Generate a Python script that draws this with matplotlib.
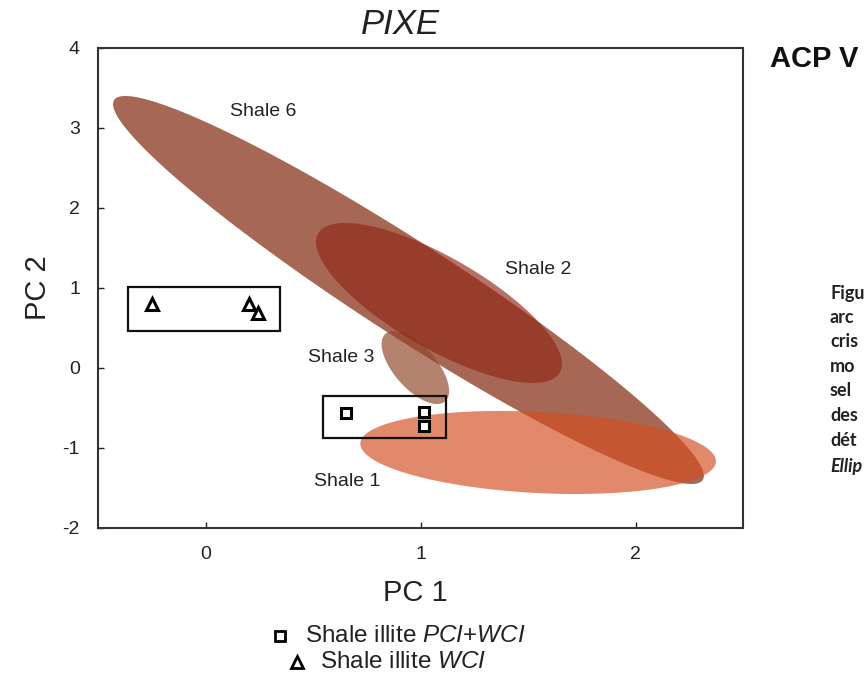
import numpy as np
import matplotlib
matplotlib.use("Agg")
import matplotlib.pyplot as plt
from matplotlib.patches import Polygon, Rectangle
from matplotlib.lines import Line2D

plt.rcParams['font.family'] = ['Liberation Sans', 'DejaVu Sans']
plt.rcParams['mathtext.fontset'] = 'custom'
plt.rcParams['mathtext.rm'] = 'Liberation Sans'
plt.rcParams['mathtext.it'] = 'Liberation Sans:italic'
plt.rcParams['axes.unicode_minus'] = False

# ---- data ----
# confidence ellipses: centre, half-width (PC1), half-height (PC2), correlation
ell_names = ["Shale 3", "Shale 6", "Shale 2", "Shale 1"]
ell_cx = [0.976, 0.944, 1.086, 1.547]
ell_cy = [0.006, 0.975, 0.8125, -1.056]
ell_hw = [0.157, 1.374, 0.572, 0.827]
ell_hh = [0.456, 2.425, 1.000, 0.519]
ell_rho = [-0.64, -0.958, -0.762, -0.21]
ell_colors = ["#a86c55", "#93462e", "#912615", "#d44e22"]
ell_alpha = [0.85, 0.82, 0.65, 0.67]

label_names = ["Shale 6", "Shale 2", "Shale 3", "Shale 1"]
label_x = [0.27, 1.546, 0.633, 0.66]
label_y = [3.21, 1.227, 0.134, -1.42]

tri_x = [-0.25, 0.20, 0.245]
tri_y = [0.80, 0.80, 0.69]
sq_x = [0.655, 1.015, 1.015]
sq_y = [-0.56, -0.55, -0.72]

tri_box = [-0.36, 0.46, 0.345, 1.01]    # x0, y0, x1, y1
sq_box = [0.547, -0.875, 1.117, -0.35]

xticks = [0, 1, 2]
yticks = [-2, -1, 0, 1, 2, 3, 4]

right_lines = ["Figu", "arc", "cris", "mo", "sel", "des", "dét"]

# ---- figure ----
fig = plt.figure(figsize=(8.64, 6.86), dpi=100)
ax = fig.add_axes([98/864, 1-528/686, (743-98)/864, (528-48)/686])
ax.set_xlim(-0.5, 2.5)
ax.set_ylim(-2, 4)

t = np.linspace(0, 2*np.pi, 400)
circle = np.vstack([np.cos(t), np.sin(t)])
for i in range(len(ell_names)):
    c = ell_rho[i]*ell_hw[i]*ell_hh[i]
    M = np.array([[ell_hw[i]**2, c], [c, ell_hh[i]**2]])
    L = np.linalg.cholesky(M)
    pts = (L @ circle).T + np.array([ell_cx[i], ell_cy[i]])
    ax.add_patch(Polygon(pts, closed=True, facecolor=ell_colors[i],
                         alpha=ell_alpha[i], edgecolor='none', zorder=1+i))

for n, x, y in zip(label_names, label_x, label_y):
    ax.text(x, y, n, ha='center', va='center', fontsize=14, color='#222222', zorder=10)

for b in (tri_box, sq_box):
    ax.add_patch(Rectangle((b[0], b[1]), b[2]-b[0], b[3]-b[1], fill=False,
                           edgecolor='#111111', lw=1.6, zorder=11))

ax.plot(tri_x, tri_y, linestyle='none', marker='^', ms=9, mfc='white',
        mec='black', mew=2.2, zorder=12)
ax.plot(sq_x, sq_y, linestyle='none', marker='s', ms=7.5, mfc='white',
        mec='black', mew=2.2, zorder=12)

ax.set_xticks(xticks)
ax.set_yticks(yticks)
ax.tick_params(direction='in', length=4, width=1, labelsize=14, colors='#222222')
ax.tick_params(axis='y', pad=13)
ax.tick_params(axis='x', pad=13)
for s in ax.spines.values():
    s.set_linewidth(1.5)
    s.set_color('#333333')
ax.set_xlabel("PC 1", fontsize=21, color='#222222', va='center')
ax.set_ylabel("PC 2", fontsize=21, color='#222222', va='center')
ax.xaxis.set_label_coords((415-98)/645, -(593-528)/480)
ax.yaxis.set_label_coords(-(98-38)/645, 0.5)

fig.text(400/864, 1-24/686, "PIXE", fontsize=25, style='italic', ha='center',
         va='center', color='#222222')
fig.text(770/864, 1-59/686, "ACP V", fontsize=21, fontweight='bold', ha='left',
         va='center', color='#111111')

for k, s in enumerate(right_lines):
    fig.text(830/864, 1-(293+24.5*k)/686, s, fontsize=13, fontweight='bold',
             family='Lato', ha='left', va='center', color='#222222')
fig.text(830/864, 1-(293+24.5*7+2)/686, "Ellip", fontsize=13, fontweight='bold',
         style='italic', family='Lato', ha='left', va='center', color='#222222')

# custom legend below plot
fig.add_artist(Line2D([280/864], [1-636/686], transform=fig.transFigure, marker='s',
                      ms=7, mfc='white', mec='black', mew=2, linestyle='none'))
fig.text(305/864, 1-636/686, r"Shale illite $\mathit{PCI{+}WCI}$", fontsize=17.5,
         ha='left', va='center', color='#222222')
fig.add_artist(Line2D([297/864], [1-662/686], transform=fig.transFigure, marker='^',
                      ms=8, mfc='white', mec='black', mew=2, linestyle='none'))
fig.text(320/864, 1-662/686, r"Shale illite $\mathit{WCI}$", fontsize=17.5,
         ha='left', va='center', color='#222222')

fig.savefig("out.png", dpi=100)
